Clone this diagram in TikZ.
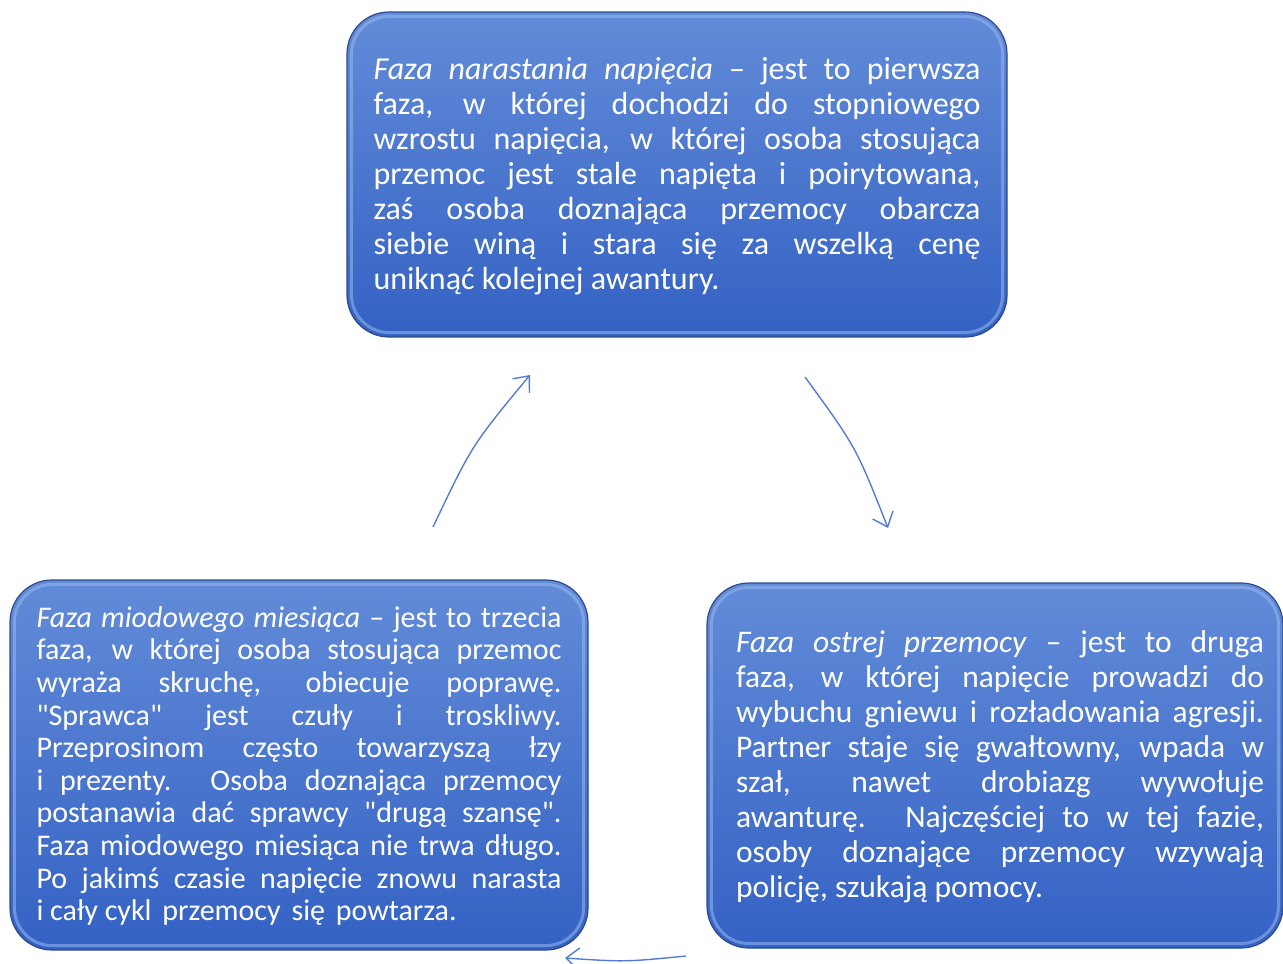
\documentclass[tikz,border=0pt]{standalone}
\usepackage{fontspec}
\setmainfont{Carlito}[Ligatures=TeXOff]
\usetikzlibrary{arrows.meta}

\definecolor{phaseTop}{RGB}{98,139,216}
\definecolor{phaseBottom}{RGB}{52,98,196}
\definecolor{phaseEdge}{RGB}{46,74,140}
\definecolor{phaseRim}{RGB}{150,185,240}
\definecolor{cycleArrow}{RGB}{84,124,212}

\tikzset{
    phase/.style={rectangle, rounded corners=42, top color=phaseTop, bottom color=phaseBottom,
        draw=phaseEdge, line width=1.2, text=white, inner sep=0},
    rim/.style={rounded corners=38, draw=phaseRim, line width=3, opacity=.55},
    cycle/.style={draw=cycleArrow, line width=1.4, -{Straight Barb[length=13,width=22]}},
}

\begin{document}
\begin{tikzpicture}[x=1pt,y=-1pt]
        \useasboundingbox (0,0) rectangle (1283,964);

        \node[phase, minimum width=660, minimum height=325, text width=607, align=justify,
            font={\fontsize{32}{35}\selectfont\tolerance=10000\hyphenpenalty=10000}]
            (narastanie) at (677,174.5) {\strut\textit{Faza narastania napięcia} – jest to pierwsza\linebreak
            faza, w której dochodzi do stopniowego\linebreak
            wzrostu napięcia, w której osoba stosująca\linebreak
            przemoc jest stale napięta i poirytowana,\linebreak
            zaś osoba doznająca przemocy obarcza\linebreak
            siebie winą i stara się za wszelką cenę\linebreak
            uniknąć kolejnej awantury.};

        \node[phase, minimum width=576, minimum height=365,
            font={\fontsize{31.5}{35}\selectfont\tolerance=10000\hyphenpenalty=10000}]
            (przemoc) at (995,765.5) {\hspace*{10pt}\parbox{528pt}{\strut\textit{Faza ostrej przemocy} – jest to druga\linebreak
            faza, w której napięcie prowadzi do\linebreak
            wybuchu gniewu i rozładowania agresji.\linebreak
            Partner staje się gwałtowny, wpada w\linebreak
            szał, nawet drobiazg wywołuje\linebreak
            awanturę. Najczęściej to w tej fazie,\linebreak
            osoby doznające przemocy wzywają\linebreak
            policję, szukają pomocy.}};

        \node[phase, minimum width=578, minimum height=370, text width=525, align=justify,
            font={\fontsize{30}{32.6}\selectfont\tolerance=10000\hyphenpenalty=10000}]
            (miesiac) at (299,765) {\strut\textit{Faza miodowego miesiąca} – jest to trzecia\linebreak
            faza, w której osoba stosująca przemoc\linebreak
            wyraża skruchę, obiecuje poprawę.\linebreak
            "Sprawca" jest czuły i troskliwy.\linebreak
            Przeprosinom często towarzyszą łzy\linebreak
            i prezenty. Osoba doznająca przemocy\linebreak
            postanawia dać sprawcy "drugą szansę".\linebreak
            Faza miodowego miesiąca nie trwa długo.\linebreak
            Po jakimś czasie napięcie znowu narasta\linebreak
            i cały cykl\hspace{4pt} przemocy\hspace{4pt} się\hspace{4pt} powtarza.};

        \foreach \ph in {narastanie,przemoc,miesiac}{% bevel
            \draw[rim] ([shift={(5,5)}]\ph.north west) rectangle ([shift={(-5,-5)}]\ph.south east);
        }

        \coordinate (odN) at (805,377);
        \coordinate (doP) at (888,528);
        \coordinate (odP) at (686,956);
        \coordinate (doM) at (565,958);
        \coordinate (odM) at (433,527);
        \coordinate (doN) at (530,375);

        \draw[cycle] (odN) .. controls (856,447) .. (doP);
        \draw[cycle] (odP) .. controls (625,962) .. (doM);
        \draw[cycle] (odM) .. controls (472,445) .. (doN);
    \end{tikzpicture}
\end{document}
